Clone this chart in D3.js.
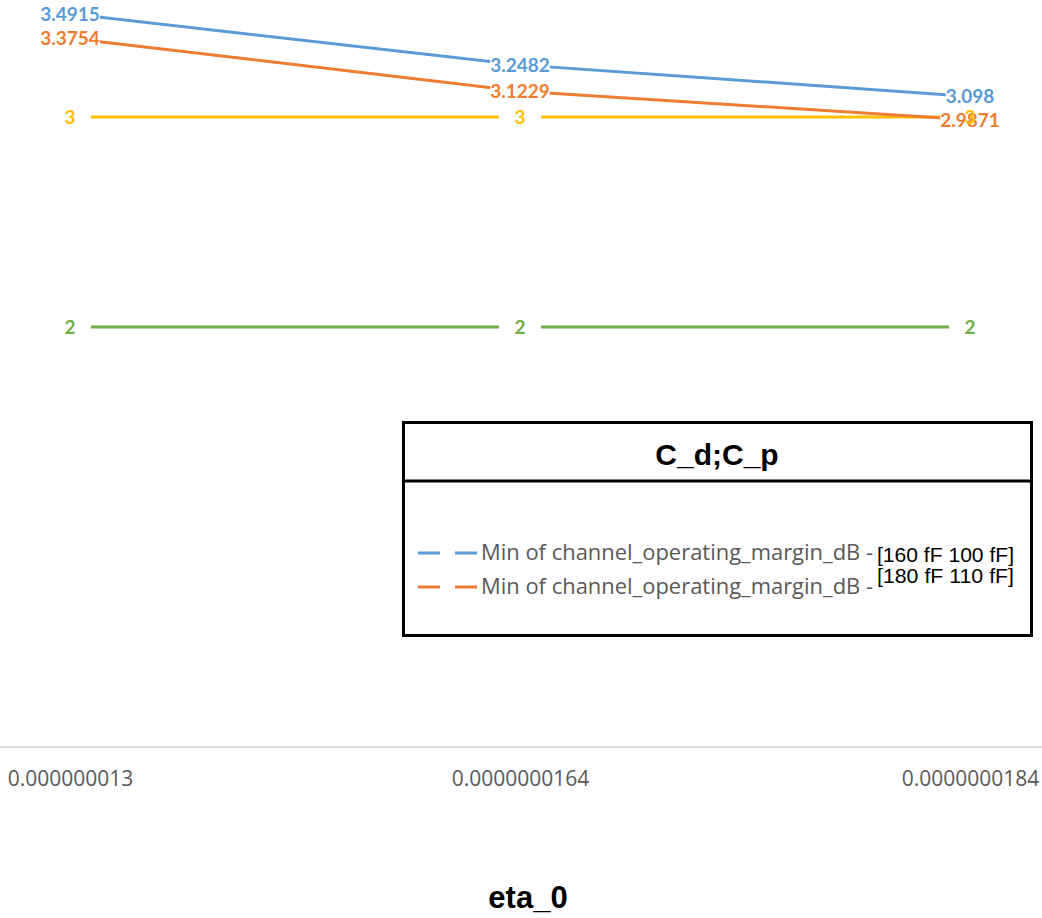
<!DOCTYPE html>
<html>
<head>
<meta charset="utf-8">
<script src="https://cdn.jsdelivr.net/npm/d3@7"></script>
<style>
  html, body { margin: 0; padding: 0; background: #ffffff; }
  svg { display: block; }
</style>
</head>
<body>
<svg id="chart" width="1042" height="918"></svg>
<script>
// ---- data ----
const categories = ["0.000000013", "0.0000000164", "0.0000000184"];
const seriesBlue   = [3.4915, 3.2482, 3.098];
const seriesOrange = [3.3754, 3.1229, 2.9871];
const seriesYellow = [3, 3, 3];
const seriesGreen  = [2, 2, 2];
const legendTitle = "C_d;C_p";
const legendPrefix = "Min of channel_operating_margin_dB -";
const legendKeys = ["[160 fF 100 fF]", "[180 fF 110 fF]"];
const xAxisTitle = "eta_0";

const colors = { blue: "#5B9BD5", orange: "#ED7D31", yellow: "#FFC000", green: "#70AD47" };

const svg = d3.select("#chart");
const x = d3.scalePoint().domain(categories).range([70, 970]);
const y = d3.scaleLinear().domain([0, 4]).range([747, -93]);

// axis line (y = 0)
svg.append("line")
  .attr("x1", 0).attr("x2", 1042)
  .attr("y1", y(0)).attr("y2", y(0))
  .attr("stroke", "#d9d9d9").attr("stroke-width", 2);

// x tick labels
const xAxis = d3.axisBottom(x).tickSize(0).tickPadding(0);
const gx = svg.append("g").attr("transform", `translate(0,${y(0)})`).call(xAxis);
gx.select(".domain").remove();
gx.selectAll("text")
  .attr("y", 39).attr("dy", null)
  .attr("font-family", "'Open Sans', sans-serif")
  .attr("font-size", 21)
  .attr("fill", "#595959");

svg.append("text")
  .attr("x", 528).attr("y", 908)
  .attr("text-anchor", "middle")
  .attr("font-family", "'Liberation Sans', Arial, sans-serif")
  .attr("font-weight", "bold").attr("font-size", 31)
  .attr("fill", "#000").text(xAxisTitle);

const series = [
  { key: "green",  vals: seriesGreen,  fmt: d => String(d) },
  { key: "yellow", vals: seriesYellow, fmt: d => String(d) },
  { key: "orange", vals: seriesOrange, fmt: d => String(d) },
  { key: "blue",   vals: seriesBlue,   fmt: d => String(d) }
];

const line = d3.line().x((d, i) => x(categories[i])).y(d => y(d));

// lines
const gLines = svg.append("g");
series.forEach(s => {
  gLines.append("path")
    .datum(s.vals)
    .attr("d", line)
    .attr("fill", "none")
    .attr("stroke", colors[s.key])
    .attr("stroke-width", 3)
    .attr("stroke-linejoin", "round");
});

// label layers
const gRects = svg.append("g");
const gTextBO = svg.append("g");
const gTextYG = svg.append("g");

function addLabels(s, gText) {
  s.vals.forEach((v, i) => {
    const t = gText.append("text")
      .attr("x", x(categories[i]))
      .attr("y", y(v))
      .attr("dy", "0.36em")
      .attr("text-anchor", "middle")
      .attr("font-family", "Lato, 'Open Sans', sans-serif")
      .attr("font-weight", "bold")
      .attr("font-size", 19)
      .attr("fill", colors[s.key])
      .text(s.fmt(v));
    const bb = t.node().getBBox();
    const w = Math.max(bb.width, 42);
    gRects.append("rect")
      .attr("x", x(categories[i]) - w / 2)
      .attr("y", y(v) - 9)
      .attr("width", w).attr("height", 18)
      .attr("fill", "#ffffff");
  });
}
addLabels(series[0], gTextYG);
addLabels(series[1], gTextYG);
addLabels(series[2], gTextBO);
addLabels(series[3], gTextBO);

// legend
const lg = svg.append("g");
lg.append("rect")
  .attr("x", 403.5).attr("y", 422.5)
  .attr("width", 628).attr("height", 213)
  .attr("fill", "#fff").attr("stroke", "#000").attr("stroke-width", 3);
lg.append("line")
  .attr("x1", 402).attr("x2", 1033)
  .attr("y1", 481).attr("y2", 481)
  .attr("stroke", "#000").attr("stroke-width", 3);
lg.append("text")
  .attr("x", 717).attr("y", 465)
  .attr("text-anchor", "middle")
  .attr("font-family", "'Liberation Sans', Arial, sans-serif")
  .attr("font-weight", "bold").attr("font-size", 30)
  .attr("fill", "#000").text(legendTitle);

const legendColors = [colors.blue, colors.orange];
const legendRowY = [553, 587];
const legendKeyY = [562, 583];
legendKeys.forEach((k, i) => {
  lg.append("line")
    .attr("x1", 418).attr("x2", 477)
    .attr("y1", legendRowY[i]).attr("y2", legendRowY[i])
    .attr("stroke", legendColors[i]).attr("stroke-width", 3)
    .attr("stroke-dasharray", "22 15");
  lg.append("text")
    .attr("x", 481).attr("y", legendRowY[i] + 7)
    .attr("font-family", "'Open Sans', sans-serif")
    .attr("font-size", 21)
    .attr("fill", "#595959")
    .attr("textLength", 392).attr("lengthAdjust", "spacingAndGlyphs")
    .text(legendPrefix);
  lg.append("text")
    .attr("x", 877).attr("y", legendKeyY[i])
    .attr("font-family", "'Liberation Sans', Arial, sans-serif")
    .attr("font-size", 21)
    .attr("fill", "#000")
    .attr("textLength", 137).attr("lengthAdjust", "spacingAndGlyphs")
    .text(k);
});
</script>
</body>
</html>
